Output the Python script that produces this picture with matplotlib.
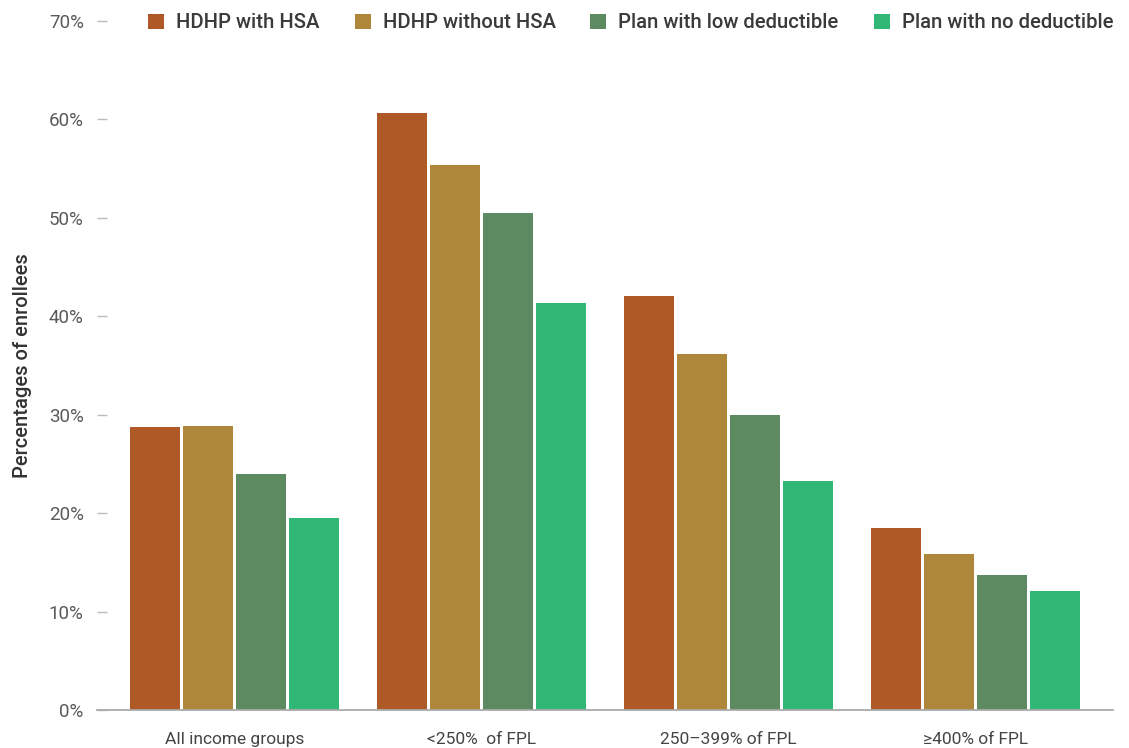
import matplotlib
matplotlib.use("Agg")
import matplotlib.pyplot as plt
import numpy as np
from matplotlib.patches import Patch

plt.rcParams['font.family'] = ['Roboto', 'DejaVu Sans']

groups = ["All income groups", "<250%  of FPL", "250\u2013399% of FPL", "\u2265400% of FPL"]
series = ["HDHP with HSA", "HDHP without HSA", "Plan with low deductible", "Plan with no deductible"]
colors = ["#AF5926", "#AF873B", "#5E8A62", "#31B775"]

hdhp_hsa = [28.8, 60.7, 42.1, 18.5]
hdhp_no_hsa = [28.9, 55.4, 36.2, 15.8]
low_deductible = [24.0, 50.5, 30.0, 13.7]
no_deductible = [19.5, 41.3, 23.3, 12.1]
values = [hdhp_hsa, hdhp_no_hsa, low_deductible, no_deductible]

yticks = [0, 10, 20, 30, 40, 50, 60, 70]
ytick_labels = [f"{t}%" for t in yticks]

W, H = 1129, 748
fig = plt.figure(figsize=(W / 100, H / 100), dpi=100)
ax = fig.add_axes([97 / W, 1 - 710 / H, (1113 - 97) / W, (710 - 21) / H])

x = np.arange(len(groups))
bar_w = 50 / 247
step = 53.3 / 247
for i, (vals, c) in enumerate(zip(values, colors)):
    ax.bar(x + (i - 1.5) * step, vals, width=bar_w, color=c, linewidth=0, zorder=2)

ax.set_xlim(-0.557, 3.557)
ax.set_ylim(0, 70)
ax.set_yticks(yticks)
ax.set_yticklabels(ytick_labels)
ax.set_xticks(x)
ax.set_xticklabels(groups)

for s in ["left", "right", "top"]:
    ax.spines[s].set_visible(False)
ax.spines["bottom"].set_color("#AAAAAA")
ax.spines["bottom"].set_linewidth(1.3)
ax.spines["bottom"].set_zorder(3)

ax.tick_params(axis="y", direction="in", length=7.2, width=1.0, color="#BBBBBB",
               pad=9.5, labelsize=13.5, labelcolor="#5A5A5A")
ax.tick_params(axis="x", length=0, pad=16, labelsize=12.5, labelcolor="#444444")

ax.set_ylabel("Percentages of enrollees", fontsize=14.5, color="#333333",
              fontweight="medium", labelpad=12)

handles = [Patch(facecolor=c, edgecolor="none") for c in colors]
leg = ax.legend(handles, series, ncol=4, loc="center right",
                bbox_to_anchor=(1.0, 1.0 - 2 / 689), frameon=False,
                prop={"size": 14.6, "weight": "medium"},
                handlelength=0.79, handleheight=0.79, handletextpad=0.59,
                columnspacing=1.72, borderaxespad=0, borderpad=0)
for t in leg.get_texts():
    t.set_color("#3A3A3A")

fig.savefig("out.png", dpi=100)
